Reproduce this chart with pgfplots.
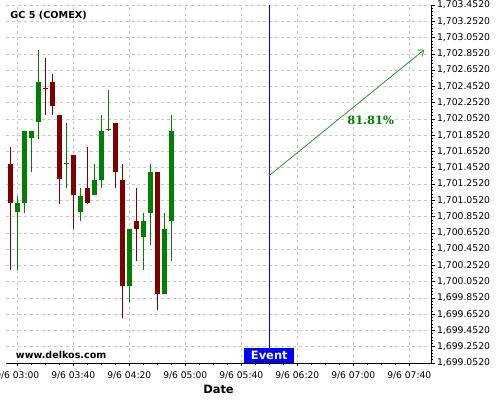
\documentclass[border=0pt]{standalone}
\usepackage{fontspec}
\setmainfont{DejaVu Sans}
\newfontfamily\serifbold{DejaVu Serif}
\usepackage{pgfplots}
\usepackage{pgfplotstable}
\pgfplotsset{compat=1.18}
\usetikzlibrary{arrows.meta}

\definecolor{upgreen}{RGB}{0,128,0}
\definecolor{downred}{RGB}{128,0,0}
\definecolor{arrowgreen}{RGB}{40,150,40}
\definecolor{gridgray}{RGB}{200,200,200}
\definecolor{eventblue}{RGB}{0,0,250}

% t = minutes after 03:00, o h l c
\pgfplotstableread{
t    o         h         l         c
0    1700.903  1701.108  1700.193  1701.013
5    1701.013  1701.907  1700.895  1701.907
10   1701.813  1701.907  1701.395  1701.907
15   1702.010  1702.899  1701.805  1702.510
35   1701.503  1702.001  1701.202  1701.515
45   1700.903  1701.202  1700.800  1701.108
55   1701.112  1701.497  1701.112  1701.304
60   1701.304  1702.104  1701.202  1701.907
65   1701.913  1702.407  1701.899  1701.925
80   1700.001  1700.702  1699.804  1700.702
90   1700.603  1700.899  1700.193  1700.800
95   1700.899  1701.497  1700.501  1701.403
105  1699.906  1700.899  1699.906  1700.702
110  1700.800  1702.104  1700.308  1701.907
}\greencandles

\pgfplotstableread{
t    o         h         l         c
-5   1701.501  1701.710  1700.193  1701.013
20   1702.426  1702.801  1702.100  1702.414
25   1702.510  1702.604  1702.100  1702.206
30   1702.104  1702.104  1701.005  1701.309
40   1701.612  1701.612  1700.698  1701.112
50   1701.202  1701.710  1701.005  1701.013
70   1702.006  1702.006  1701.202  1701.403
75   1701.304  1701.497  1699.603  1700.001
85   1700.800  1701.202  1700.308  1700.702
100  1701.403  1701.403  1699.701  1699.906
}\redcandles

\begin{document}
\begin{tikzpicture}
\begin{axis}[
    at={(6bp,37bp)}, anchor=south west,
    scale only axis,
    width=425bp, height=358bp,
    xmin=-8.07, xmax=295.5,
    ymin=1699.052, ymax=1703.452,
    axis x line*=bottom,
    axis y line*=right,
    axis line style={black, line width=0.8bp},
    tick align=outside,
    major tick length=3.5bp,
    minor tick length=2bp,
    tick style={black, line width=0.5bp},
    xtick={0,40,80,120,160,200,240,280},
    xticklabels={9/6 03:00,9/6 03:40,9/6 04:20,9/6 05:00,9/6 05:40,9/6 06:20,9/6 07:00,9/6 07:40},
    minor x tick num=3,
    ytick={1699.052,1699.252,1699.452,1699.652,1699.852,1700.052,1700.252,1700.452,1700.652,1700.852,1701.052,1701.252,1701.452,1701.652,1701.852,1702.052,1702.252,1702.452,1702.652,1702.852,1703.052,1703.252,1703.452},
    minor y tick num=4,
    yticklabel style={
        /pgf/number format/fixed,
        /pgf/number format/fixed zerofill,
        /pgf/number format/precision=4,
        /pgf/number format/1000 sep={,},
        /pgf/number format/assume math mode=true,
        font=\fontsize{9.3}{11}\selectfont, xshift=-1bp,
    },
    x tick label style={font=\fontsize{9.2}{11}\selectfont, yshift=-2bp},
    scaled y ticks=false,
    grid=major,
    major grid style={gridgray, dashed, line width=0.6bp},
    xlabel={\bfseries Date},
    xlabel style={font=\fontsize{11.5}{13}\selectfont, yshift=1.5bp},
    clip=false,
]
% wicks
\addplot[draw=none, mark=none, error bars/.cd, y dir=plus, y explicit, error mark=none,
    error bar style={draw=upgreen, line width=1bp}]
    table[x=t, y=l, y error plus expr=\thisrow{h}-\thisrow{l}] {\greencandles};
\addplot[draw=none, mark=none, error bars/.cd, y dir=plus, y explicit, error mark=none,
    error bar style={draw=downred, line width=1bp}]
    table[x=t, y=l, y error plus expr=\thisrow{h}-\thisrow{l}] {\redcandles};
% bodies
\addplot[draw=none, mark=none, error bars/.cd, y dir=plus, y explicit, error mark=none,
    error bar style={draw=upgreen, line width=5bp}]
    table[x=t, y=o, y error plus expr=\thisrow{c}-\thisrow{o}] {\greencandles};
\addplot[draw=none, mark=none, error bars/.cd, y dir=plus, y explicit, error mark=none,
    error bar style={draw=downred, line width=5bp}]
    table[x=t, y=c, y error plus expr=\thisrow{o}-\thisrow{c}] {\redcandles};
% event line and projection arrow
\addplot[eventblue, line width=0.9bp] coordinates {(180,1699.052) (180,1703.452)};
\addplot[arrowgreen, line width=0.8bp, -{Straight Barb[length=5bp,width=8bp]}]
    coordinates {(180,1701.357) (290.7,1702.903)};
\node[font=\serifbold\bfseries\fontsize{11.5}{13}\selectfont, text=upgreen]
    at (axis cs:252.4,1702.034) {81.81\%};
\node[anchor=south, fill=eventblue, text=white, inner sep=0pt,
    minimum width=50bp, minimum height=15bp,
    font=\bfseries\fontsize{11.5}{13}\selectfont]
    at (axis cs:180,1699.052) {Event};
\node[anchor=west, inner sep=0pt, font=\bfseries\fontsize{9.6}{11}\selectfont]
    at (axis cs:-1.1,1699.156) {www.delkos.com};
\node[anchor=west, inner sep=0pt, font=\bfseries\fontsize{9.7}{11}\selectfont]
    at (axis cs:-5,1703.325) {GC 5 (COMEX)};
\end{axis}
\pgfresetboundingbox
\useasboundingbox (0,0) rectangle (500bp,400bp);
\end{tikzpicture}
\end{document}
